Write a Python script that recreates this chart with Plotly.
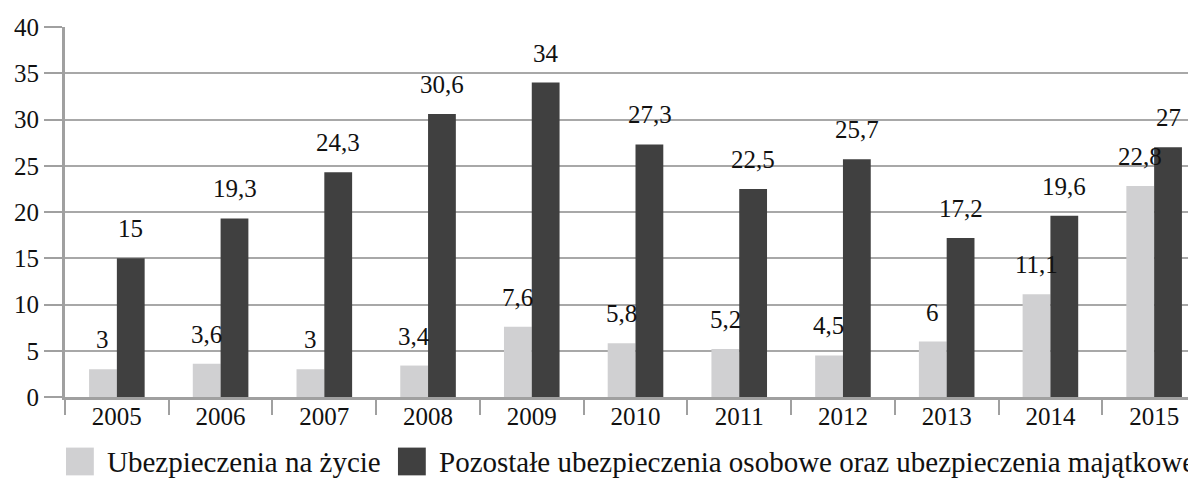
import plotly.graph_objects as go

years = ["2005", "2006", "2007", "2008", "2009", "2010", "2011", "2012", "2013", "2014", "2015"]
life = [3, 3.6, 3, 3.4, 7.6, 5.8, 5.2, 4.5, 6, 11.1, 22.8]
other = [15, 19.3, 24.3, 30.6, 34, 27.3, 22.5, 25.7, 17.2, 19.6, 27]
name_life = "Ubezpieczenia na życie"
name_other = "Pozostałe ubezpieczenia osobowe oraz ubezpieczenia majątkowe"
y_ticks = [0, 5, 10, 15, 20, 25, 30, 35, 40]

c_life = "#d0d0d2"
c_other = "#404040"
FONT = "Times New Roman"
OFF = 8  # page body margin
W, H = 1204, 470
L, R, T, B = 50, 6, 16, 81
plot_w = W - L - R
plot_h = H - T - B

def fmt(v):
    return ("%g" % v).replace(".", ",")

fig = go.Figure()
fig.add_trace(go.Bar(x=years, y=life, name=name_life, marker=dict(color=c_life, line=dict(width=0))))
fig.add_trace(go.Bar(x=years, y=other, name=name_other, marker=dict(color=c_other, line=dict(width=0))))

annotations = []
for i, v in enumerate(life):
    annotations.append(dict(x=i, y=v, text=fmt(v), xshift=-14, yshift=14, showarrow=False,
                            yanchor="bottom", xanchor="center",
                            font=dict(family=FONT, size=25, color="#111")))
for i, v in enumerate(other):
    annotations.append(dict(x=i, y=v, text=fmt(v), xshift=14, yshift=14, showarrow=False,
                            yanchor="bottom", xanchor="center",
                            font=dict(family=FONT, size=25, color="#111")))

def px2x(px):
    return (px - OFF - L) / plot_w
def py2y(py):
    return (T + plot_h - (py - OFF)) / plot_h

shapes = [
    dict(type="rect", xref="paper", yref="paper", x0=px2x(59), x1=px2x(87), y0=py2y(476), y1=py2y(448),
         fillcolor=c_life, line=dict(width=0)),
    dict(type="rect", xref="paper", yref="paper", x0=px2x(393), x1=px2x(421), y0=py2y(476), y1=py2y(448),
         fillcolor=c_other, line=dict(width=0)),
]
annotations.append(dict(xref="paper", yref="paper", x=px2x(98), y=py2y(463), text=name_life, showarrow=False,
                        xanchor="left", yanchor="middle", font=dict(family=FONT, size=29, color="#111")))
annotations.append(dict(xref="paper", yref="paper", x=px2x(432), y=py2y(463), text=name_other, showarrow=False,
                        xanchor="left", yanchor="middle", font=dict(family=FONT, size=29, color="#111")))

fig.update_layout(
    width=W, height=H,
    margin=dict(l=L, r=R, t=T, b=B, pad=0),
    paper_bgcolor="white", plot_bgcolor="white",
    barmode="group", bargap=0.464, bargroupgap=0,
    showlegend=False,
    font=dict(family=FONT, size=25, color="#111"),
    annotations=annotations, shapes=shapes,
)
fig.update_xaxes(type="category", tickson="boundaries", ticks="outside", ticklen=15, tickwidth=2,
                 tickcolor="#a0a0a0", showline=True, linecolor="#a0a0a0", linewidth=3,
                 showgrid=False, tickangle=0, ticklabelstandoff=-5,
                 tickfont=dict(family=FONT, size=25, color="#111"))
fig.update_yaxes(range=[0, 40], tickvals=y_ticks, ticks="outside", ticklen=18, tickwidth=2,
                 tickcolor="#a0a0a0", showline=True, linecolor="#a0a0a0", linewidth=3,
                 showgrid=True, gridcolor="#a8a8a8", gridwidth=2, zeroline=False,
                 tickfont=dict(family=FONT, size=25, color="#111"))

fig.write_html("out.html")
